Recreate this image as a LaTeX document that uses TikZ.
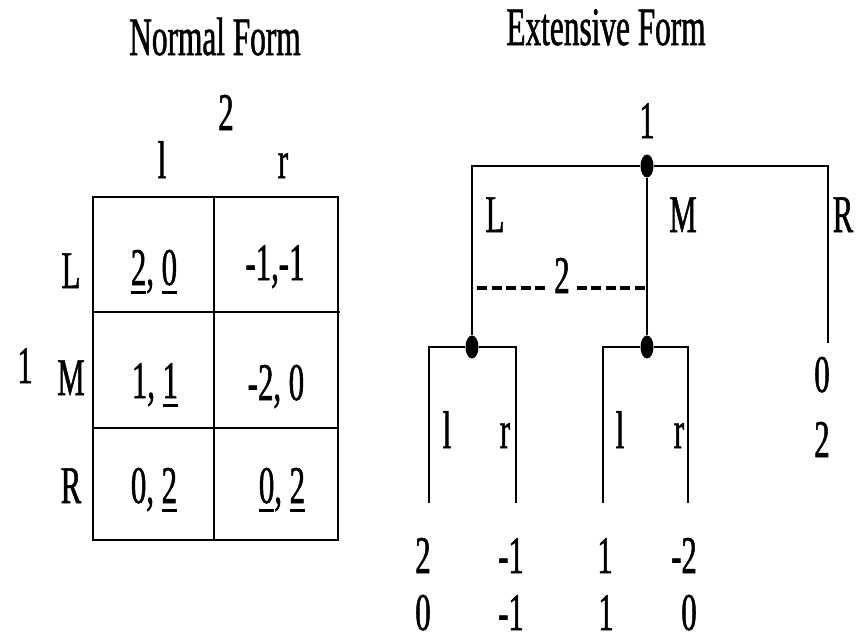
\documentclass[tikz,border=0pt]{standalone}
\usepackage{fontspec}
\setmainfont[FakeStretch=0.58,FakeBold=1]{Liberation Serif}
\usetikzlibrary{shapes.geometric}
\newcommand\uln[1]{\setbox0\hbox{#1}\rlap{\rule[-9pt]{\wd0}{3.2pt}}\box0}
\begin{document}
\begin{tikzpicture}[x=1pt,y=-1pt,
  txt/.style={anchor=base,inner sep=0pt,font=\fontsize{53}{53}\selectfont},
  ttl/.style={anchor=base,inner sep=0pt,font=\fontsize{54}{54}\selectfont},
  grid/.style={line width=2.6pt},
  branch/.style={line width=2.4pt},
  info/.style={line width=3.5pt,dash pattern=on 10pt off 4.5pt},
  dot/.style={ellipse,fill=black,draw=none,inner sep=0pt,minimum width=13pt,minimum height=23pt}]
\useasboundingbox (0,0) rectangle (865,640);
% titles
\node[ttl] (nf) at (215,55) {Normal Form};
\node[ttl] (ef) at (606,45) {Extensive Form};
% normal form table
\draw[grid] (93,197) rectangle (338,540);
\draw[grid] (214,197) -- (214,540);
\draw[grid] (93,312) -- (340,312);
\draw[grid] (93,428) -- (338,428);
\node[txt] (p2) at (226,130) {2};
\node[txt] (cl) at (162,178) {l};
\node[txt] (cr) at (283,178) {r};
\node[txt] (rL) at (71,288) {L};
\node[txt] (p1) at (25,383) {1};
\node[txt] (rM) at (71,395) {M};
\node[txt] (rR) at (71,503) {R};
\node[txt] (c11) at (154,285) {\uln{2}, \uln{0}};
\node[txt] (c12) at (275,280) {-1,-1};
\node[txt] (c21) at (155,398) {1, \uln{1}};
\node[txt] (c22) at (276,400) {-2, 0};
\node[txt] (c31) at (154,503) {0, \uln{2}};
\node[txt] (c32) at (282,503) {\uln{0}, \uln{2}};
% extensive form
\node[dot] (root) at (647,166) {};
\node[dot] (nL) at (472,347) {};
\node[dot] (nM) at (647,347) {};
\coordinate (tR) at (828,343);
\draw[branch] (root) -| (nL);
\draw[branch] (root) -| (tR);
\draw[branch] (root) -- (nM);
\coordinate (aL) at (429,503);
\coordinate (bL) at (516,503);
\coordinate (aM) at (603,503);
\coordinate (bM) at (688,503);
\draw[branch] (nL) -| (aL);
\draw[branch] (nL) -| (bL);
\draw[branch] (nM) -| (aM);
\draw[branch] (nM) -| (bM);
\node[txt] (info) at (562,293) {2};
\coordinate (dL) at (477,288);
\coordinate (dR) at (647,288);
\draw[info,shorten >=7pt] (dL) -- (dL -| info.west);
\draw[info,shorten <=7pt] (dL -| info.east) -- (dR);
\node[txt] (r1) at (647,138) {1};
\node[txt] (lab1) at (495,232) {L};
\node[txt] (lab2) at (683,232) {M};
\node[txt] (lab3) at (843,232) {R};
\node[txt] (pr1) at (822,392) {0};
\node[txt] (pr2) at (822,457) {2};
\node[txt] (ll1) at (447,448) {l};
\node[txt] (lr1) at (505,448) {r};
\node[txt] (ll2) at (620,448) {l};
\node[txt] (lr2) at (679,448) {r};
\node[txt] (pa1) at (423,573) {2};
\node[txt] (pa2) at (511,573) {-1};
\node[txt] (pa3) at (605,573) {1};
\node[txt] (pa4) at (684,573) {-2};
\node[txt] (pb1) at (423,630) {0};
\node[txt] (pb2) at (511,630) {-1};
\node[txt] (pb3) at (606,630) {1};
\node[txt] (pb4) at (689,630) {0};
\end{tikzpicture}
\end{document}
